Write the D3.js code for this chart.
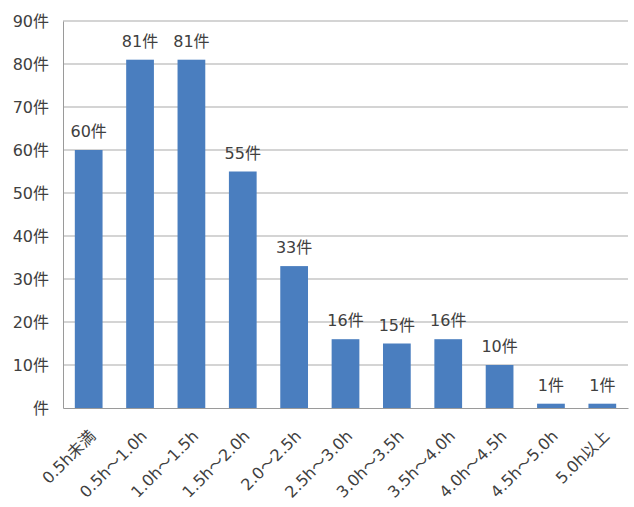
<!DOCTYPE html>
<html><head><meta charset="utf-8">
<script src="https://cdn.jsdelivr.net/npm/d3@7/dist/d3.min.js"></script>
<style>body{margin:0;background:#fff}svg{display:block}</style>
</head><body>
<script>
const categories = ["0.5h未満","0.5h～1.0h","1.0h～1.5h","1.5h～2.0h","2.0～2.5h","2.5h～3.0h","3.0h～3.5h","3.5h～4.0h","4.0h～4.5h","4.5h～5.0h","5.0h以上"];
const values = [60,81,81,55,33,16,15,16,10,1,1];
const yTicks = [0,10,20,30,40,50,60,70,80,90];
const unit = "件";

const W = 634, H = 507;
const m = {left:63, right:6, top:21, bottom:99};
const svg = d3.select("body").append("svg").attr("width",W).attr("height",H);
const font = "'DejaVu Sans','Noto Sans CJK JP',sans-serif";
const x = d3.scaleBand().domain(categories).range([m.left, W-m.right]).paddingInner(0.46).paddingOuter(0.23);
const y = d3.scaleLinear().domain([0,90]).range([H-m.bottom, m.top]);

// gridlines
svg.append("g").selectAll("line").data(yTicks.filter(d=>d>0)).join("line")
  .attr("x1",m.left).attr("x2",W-m.right).attr("y1",d=>y(d)).attr("y2",d=>y(d))
  .attr("stroke","#c6c6c6").attr("stroke-width",1.3);

// y axis
const ya = svg.append("g").attr("transform",`translate(${m.left},0)`)
  .call(d3.axisLeft(y).tickValues(yTicks).tickSize(0).tickPadding(14).tickFormat(d=>(d===0?"":d)+unit));
ya.select(".domain").attr("stroke","#9a9a9a");
ya.selectAll("text").attr("font-family",font).attr("font-size",16).attr("fill","#404040");

// bars
svg.append("g").selectAll("rect").data(values).join("rect")
  .attr("x",(d,i)=>x(categories[i])).attr("width",x.bandwidth())
  .attr("y",d=>y(d)).attr("height",d=>y(0)-y(d)).attr("fill","#4a7ebf");

// value labels
svg.append("g").selectAll("text").data(values).join("text")
  .attr("x",(d,i)=>x(categories[i])+x.bandwidth()/2).attr("y",d=>y(d)-13)
  .attr("text-anchor","middle").attr("font-family",font).attr("font-size",16).attr("fill","#404040")
  .text(d=>d+unit);

// x axis
const xa = svg.append("g").attr("transform",`translate(0,${y(0)})`)
  .call(d3.axisBottom(x).tickSize(0).tickPadding(0));
xa.select(".domain").attr("stroke","#9a9a9a");
xa.selectAll("text").attr("font-family",font).attr("font-size",16).attr("fill","#404040")
  .attr("text-anchor","end").attr("dy",0)
  .attr("transform","translate(8,29) rotate(-45)");
</script>
</body></html>
